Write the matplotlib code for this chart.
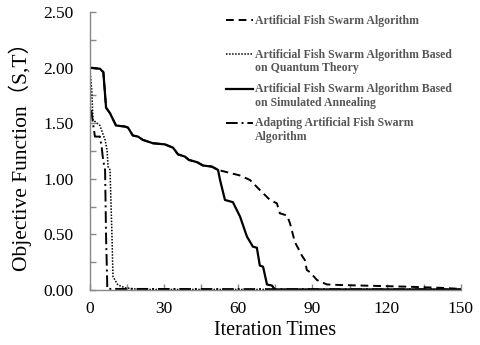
import matplotlib
matplotlib.use("Agg")
import matplotlib.pyplot as plt
from matplotlib.ticker import MultipleLocator, FormatStrFormatter

# ---- data ----
sa_x = [0, 4.0, 5.4, 6.5, 8.1, 10.5, 14.2, 15.4, 17.3, 19.4, 21.4, 25.5, 30.3, 33.6, 35.6, 38.4, 40.0, 43.3,
        45.7, 49.3, 51.8, 52.6, 54.6, 57.8, 60.7, 63.5, 65.9, 67.5, 68.7, 70.0, 71.6, 73.6, 74.8, 150]
sa_y = [2.00, 1.99, 1.96, 1.64, 1.59, 1.48, 1.47, 1.46, 1.39, 1.38, 1.35, 1.32, 1.31, 1.28, 1.22, 1.20, 1.17, 1.15,
        1.12, 1.11, 1.08, 0.99, 0.81, 0.79, 0.66, 0.48, 0.39, 0.38, 0.22, 0.21, 0.05, 0.04, 0.005, 0.005]

afsa_x = [0, 4.0, 5.4, 6.5, 8.1, 10.5, 14.2, 15.4, 17.3, 19.4, 21.4, 25.5, 30.3, 33.6, 35.6, 38.4, 40.0, 43.3,
          45.7, 49.3, 51.8, 55.4, 60.7, 64.7, 68.7, 72.8, 75.6, 76.8, 79.7, 80.9, 82.9, 84.1, 85.7, 86.9, 87.7,
          89.0, 91.8, 95.8, 101.1, 117.3, 128.2, 141.5, 150]
afsa_y = [2.00, 1.99, 1.96, 1.64, 1.59, 1.48, 1.47, 1.46, 1.39, 1.38, 1.35, 1.32, 1.31, 1.28, 1.22, 1.20, 1.17, 1.15,
          1.12, 1.11, 1.08, 1.06, 1.03, 0.99, 0.90, 0.81, 0.78, 0.69, 0.67, 0.60, 0.43, 0.38, 0.31, 0.27, 0.18,
          0.16, 0.09, 0.05, 0.045, 0.036, 0.03, 0.02, 0.01]

qafsa_x = [0, 0.7, 1.2, 4.0, 6.1, 6.9, 7.3, 8.1, 8.9, 9.3, 11.3, 14.2, 20, 150]
qafsa_y = [1.98, 1.80, 1.53, 1.48, 1.35, 1.26, 1.11, 1.08, 0.48, 0.12, 0.045, 0.02, 0.005, 0.005]

aafsa_x = [0.5, 1.2, 2.0, 4.0, 4.7, 5.3, 6.1, 6.5, 6.9, 7.0, 150]
aafsa_y = [1.62, 1.50, 1.38, 1.38, 1.29, 1.17, 1.08, 0.48, 0.12, 0.01, 0.005]

labels = ["Artificial Fish Swarm Algorithm",
          "Artificial Fish Swarm Algorithm Based\non Quantum Theory",
          "Artificial Fish Swarm Algorithm Based\non Simulated Annealing",
          "Adapting Artificial Fish Swarm\nAlgorithm"]

serif = ["Liberation Serif", "DejaVu Serif"]
cjk = ["Liberation Serif", "Noto Sans CJK SC", "DejaVu Sans"]

fig = plt.figure(figsize=(4.8, 3.45), dpi=100)
ax = fig.add_axes([0.1875, 0.1594, 0.7725, 0.8056])

st_afsa = dict(color="black", lw=1.4, linestyle=(0, (4, 2.5)))
st_q = dict(color="black", lw=1.1, linestyle=(0, (1, 1)))
st_sa = dict(color="black", lw=1.6, linestyle="-")
st_a = dict(color="black", lw=1.4, linestyle=(0, (6, 2, 1, 2)))

ax.plot(afsa_x, afsa_y, **st_afsa)
ax.plot(qafsa_x, qafsa_y, **st_q)
ax.plot(aafsa_x, aafsa_y, **st_a)
ax.plot(sa_x, sa_y, **st_sa)

ax.set_xlim(0, 150)
ax.set_ylim(0, 2.5)
ax.xaxis.set_major_locator(MultipleLocator(30))
ax.xaxis.set_minor_locator(MultipleLocator(15))
ax.yaxis.set_major_locator(MultipleLocator(0.5))
ax.yaxis.set_minor_locator(MultipleLocator(0.25))
ax.yaxis.set_major_formatter(FormatStrFormatter("%.2f"))

for s in ["top", "right"]:
    ax.spines[s].set_visible(False)
for s in ["left", "bottom"]:
    ax.spines[s].set_color("#888888")
    ax.spines[s].set_linewidth(1.0)

ax.tick_params(which="both", direction="in", color="#888888", width=1.0)
ax.tick_params(which="major", length=4, labelsize=12.5)
ax.tick_params(axis="y", which="major", pad=12)
ax.tick_params(axis="x", which="major", pad=8)
ax.tick_params(which="minor", length=4)
for t in ax.get_xticklabels() + ax.get_yticklabels():
    t.set_fontfamily(serif)

ax.set_xlabel("Iteration Times", fontsize=14.5, family=serif, labelpad=3)
ax.set_ylabel("Objective Function（S,T）", fontsize=15.5, family=cjk, labelpad=8)

# legend drawn manually in axes coordinates
styles = [st_afsa, st_q, st_sa, st_a]
ys_px = [20, 54, 89, 123]
x0 = (226 - 90) / 371.0
x1 = (253 - 90) / 371.0
xt = (255 - 90) / 371.0
for lab, st, ypx in zip(labels, styles, ys_px):
    yf = (290 - ypx) / 278.0
    ax.plot([x0, x1], [yf, yf], transform=ax.transAxes, **st)
    ax.text(xt, yf + 0.020, lab, transform=ax.transAxes, fontsize=8.5, fontweight="bold",
            family=serif, color="#555555", va="top", ha="left", linespacing=1.2)

fig.savefig("out.png", dpi=100)
